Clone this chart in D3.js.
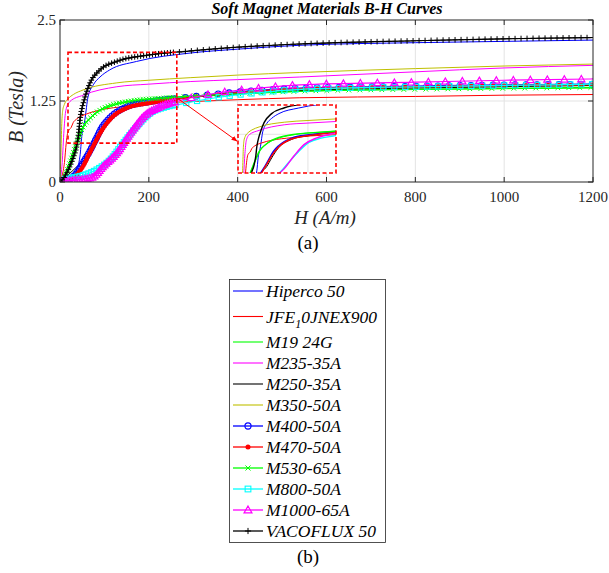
<!DOCTYPE html>
<html>
<head>
<meta charset="utf-8">
<script src="https://cdn.jsdelivr.net/npm/d3@7.9.0/dist/d3.min.js"></script>
<style>
  body { margin: 0; background: #fff; }
  svg { display: block; }
</style>
</head>
<body>
<svg id="chart" width="609" height="573" font-family="'Liberation Serif', 'Times New Roman', serif"></svg>
<script>
// B-H curves, [H (A/m), B (T)]
const hiperco50 = [[0,0],[20,0.05],[35,0.15],[45,0.4],[49,0.7],[56,0.96],[63,1.31],[75,1.5],[90,1.62],[112,1.73],[172,1.86],[293,1.99],[400,2.05],[540,2.11],[800,2.15],[1000,2.17],[1200,2.19]];
const jfe10 = [[0,0],[5,0.1],[10,0.3],[14,0.6],[17,0.75],[20,0.8],[25,0.84],[30,0.92],[37,0.97],[60,1.05],[90,1.11],[150,1.17],[203,1.21],[293,1.24],[400,1.27],[540,1.3],[800,1.32],[1000,1.34],[1200,1.35]];
const m19 = [[0,0],[10,0.1],[25,0.35],[40,0.62],[55,0.87],[75,1.03],[100,1.13],[150,1.23],[240,1.3],[400,1.36],[540,1.4],[800,1.43],[1000,1.44],[1200,1.45]];
const m235 = [[0,0],[5,0.3],[9,0.8],[13,1.1],[22,1.24],[52,1.34],[128,1.47],[200,1.51],[293,1.55],[400,1.58],[540,1.62],[800,1.7],[1000,1.76],[1200,1.8]];
const m250 = [[0,0],[20,0.12],[40,0.25],[60,0.38],[75,0.5],[90,0.7],[110,0.93],[150,1.13],[203,1.22],[263,1.28],[400,1.36],[540,1.41],[800,1.45],[1000,1.47],[1200,1.49]];
const m350 = [[0,0],[2,0.4],[4,0.9],[6,1.1],[10,1.2],[19,1.29],[30,1.35],[52,1.42],[128,1.53],[200,1.57],[293,1.61],[400,1.65],[540,1.69],[800,1.75],[1000,1.79],[1200,1.82]];
const m400 = [[0,0],[20,0.04],[35,0.12],[50,0.28],[65,0.45],[80,0.65],[95,0.85],[112,0.99],[150,1.16],[203,1.24],[263,1.29],[400,1.39],[540,1.45],[800,1.48],[1000,1.5],[1200,1.51]];
const m470 = [[0,0],[20,0.03],[35,0.1],[50,0.22],[67,0.45],[80,0.62],[90,0.75],[112,0.96],[150,1.14],[203,1.22],[263,1.28],[400,1.38],[540,1.44],[800,1.47],[1000,1.49],[1200,1.5]];
const m530 = [[0,0],[10,0.08],[22,0.29],[35,0.55],[52,0.85],[70,1.0],[90,1.11],[150,1.24],[240,1.3],[400,1.36],[540,1.4],[800,1.43],[1000,1.445],[1200,1.46]];
const m800 = [[0,0],[10,0.04],[30,0.07],[50,0.1],[82,0.19],[112,0.34],[142,0.6],[172,0.85],[203,1.06],[240,1.16],[277,1.21],[350,1.3],[450,1.38],[540,1.43],[800,1.47],[1000,1.49],[1200,1.51]];
const m1000 = [[0,0],[20,0.02],[50,0.04],[75,0.08],[97,0.24],[127,0.44],[158,0.75],[188,1.01],[225,1.16],[278,1.27],[350,1.37],[450,1.45],[540,1.5],[800,1.54],[1000,1.57],[1200,1.59]];
const vacoflux50 = [[0,0],[10,0.08],[22,0.24],[30,0.38],[37,0.54],[42,0.75],[45,0.96],[50,1.15],[55,1.28],[67,1.52],[90,1.73],[127,1.86],[200,1.96],[290,2.02],[400,2.08],[540,2.13],[800,2.18],[1000,2.21],[1200,2.23]];

const xTicks = [0, 200, 400, 600, 800, 1000, 1200];
const yTicks = [0, 1.25, 2.5];
const zoomWindow = { h: [18, 263], b: [0.6, 2.0] };   // dashed box on the main axes
const insetView = { h: [-12, 285], b: [0.35, 1.93] };  // what the inset shows

const series = [
  { name: 'Hiperco 50', data: hiperco50, color: '#0000ff', marker: null },
  { name: 'JFE_10JNEX900', data: jfe10, color: '#ff0000', marker: null },
  { name: 'M19 24G', data: m19, color: '#00ff00', marker: null },
  { name: 'M235-35A', data: m235, color: '#ff00ff', marker: null },
  { name: 'M250-35A', data: m250, color: '#000000', marker: null },
  { name: 'M350-50A', data: m350, color: '#bfbf00', marker: null },
  { name: 'M400-50A', data: m400, color: '#0000ff', marker: 'circle', dense: 3, sparse: 11 },
  { name: 'M470-50A', data: m470, color: '#ff0000', marker: 'dot', dense: 2.5, sparse: 11 },
  { name: 'M530-65A', data: m530, color: '#00ff00', marker: 'x', dense: 3, sparse: 11 },
  { name: 'M800-50A', data: m800, color: '#00ffff', marker: 'square', dense: 3, sparse: 11 },
  { name: 'M1000-65A', data: m1000, color: '#ff00ff', marker: 'triangle', dense: 2.5, sparse: 17 },
  { name: 'VACOFLUX 50', data: vacoflux50, color: '#000000', marker: 'plus', dense: 3, sparse: 5.7 },
];

const svg = d3.select('#chart');
const plot = { left: 60, right: 593, top: 20, bottom: 182 };

const x = d3.scaleLinear().domain([0, 1200]).range([plot.left, plot.right]);
const y = d3.scaleLinear().domain([0, 2.5]).range([plot.bottom, plot.top]);

const defs = svg.append('defs');
defs.append('clipPath').attr('id', 'plotClip')
  .append('rect')
  .attr('x', plot.left).attr('y', plot.top)
  .attr('width', plot.right - plot.left).attr('height', plot.bottom - plot.top);

// Gridlines
const grid = svg.append('g').attr('stroke', '#e3e3e3').attr('stroke-width', 1);
grid.selectAll('.gx').data(xTicks.slice(1, -1)).join('line')
  .attr('x1', d => x(d)).attr('x2', d => x(d))
  .attr('y1', plot.top).attr('y2', plot.bottom);
grid.selectAll('.gy').data(yTicks.slice(1, -1)).join('line')
  .attr('x1', plot.left).attr('x2', plot.right)
  .attr('y1', d => y(d)).attr('y2', d => y(d));

function drawMarker(g, type, color, px, py, s) {
  s = s || 1;
  if (type === 'circle') {
    g.append('circle').attr('cx', px).attr('cy', py).attr('r', 2.8 * s)
      .attr('fill', 'none').attr('stroke', color).attr('stroke-width', 1.1);
  } else if (type === 'dot') {
    g.append('circle').attr('cx', px).attr('cy', py).attr('r', 2.3 * s).attr('fill', color);
  } else if (type === 'square') {
    const h = 2.6 * s;
    g.append('rect').attr('x', px - h).attr('y', py - h).attr('width', 2 * h).attr('height', 2 * h)
      .attr('fill', 'none').attr('stroke', color).attr('stroke-width', 1.1);
  } else if (type === 'triangle') {
    const h = 3.6 * s;
    g.append('path').attr('d', `M${px},${py - h}L${px + h},${py + h * 0.75}L${px - h},${py + h * 0.75}Z`)
      .attr('fill', 'none').attr('stroke', color).attr('stroke-width', 1.2);
  } else if (type === 'x') {
    const h = 2.3 * s;
    g.append('path').attr('d', `M${px - h},${py - h}L${px + h},${py + h}M${px - h},${py + h}L${px + h},${py - h}`)
      .attr('stroke', color).attr('stroke-width', 1);
  } else if (type === 'plus') {
    const h = 2.8 * s;
    g.append('path').attr('d', `M${px - h},${py}L${px + h},${py}M${px},${py - h}L${px},${py + h}`)
      .attr('stroke', color).attr('stroke-width', 1);
  }
}

// walk along the drawn path and drop markers, denser on the rising part
function placeMarkers(node, g, s) {
  const L = node.getTotalLength();
  let last = -Infinity;
  for (let t = 0; t <= L; t += 0.5) {
    const p = node.getPointAtLength(t);
    const gap = p.x < x(260) ? s.dense : s.sparse;
    if (t - last >= gap) {
      drawMarker(g, s.marker, s.color, p.x, p.y);
      last = t;
    }
  }
}

const line = d3.line().x(d => x(d[0])).y(d => y(d[1])).curve(d3.curveMonotoneX);
const curves = svg.append('g').attr('clip-path', 'url(#plotClip)');

series.forEach(s => {
  const g = curves.append('g');
  const path = g.append('path')
    .attr('d', line(s.data))
    .attr('fill', 'none')
    .attr('stroke', s.color)
    .attr('stroke-width', s.marker ? 1.2 : 1);
  if (s.marker) placeMarkers(path.node(), g, s);
});

// Axes box
const axisColor = '#262626';
svg.append('rect')
  .attr('x', plot.left).attr('y', plot.top)
  .attr('width', plot.right - plot.left).attr('height', plot.bottom - plot.top)
  .attr('fill', 'none').attr('stroke', axisColor).attr('stroke-width', 1);

const tickLen = 5;
const ticks = svg.append('g').attr('stroke', axisColor).attr('stroke-width', 1);
xTicks.forEach(t => {
  ticks.append('line').attr('x1', x(t)).attr('x2', x(t)).attr('y1', plot.bottom).attr('y2', plot.bottom - tickLen);
  ticks.append('line').attr('x1', x(t)).attr('x2', x(t)).attr('y1', plot.top).attr('y2', plot.top + tickLen);
});
yTicks.forEach(t => {
  ticks.append('line').attr('x1', plot.left).attr('x2', plot.left + tickLen).attr('y1', y(t)).attr('y2', y(t));
  ticks.append('line').attr('x1', plot.right).attr('x2', plot.right - tickLen).attr('y1', y(t)).attr('y2', y(t));
});

svg.append('g').selectAll('text').data(xTicks).join('text')
  .attr('x', d => x(d)).attr('y', 202)
  .attr('text-anchor', 'middle').attr('font-size', 15).attr('fill', axisColor)
  .text(d => d);
svg.append('g').selectAll('text').data(yTicks).join('text')
  .attr('x', plot.left - 4).attr('y', d => y(d) + 5)
  .attr('text-anchor', 'end').attr('font-size', 15).attr('fill', axisColor)
  .text(d => d);

svg.append('text')
  .attr('x', 325).attr('y', 224)
  .attr('text-anchor', 'middle').attr('font-size', 19).attr('font-style', 'italic').attr('fill', axisColor)
  .text('H (A/m)');
svg.append('text')
  .attr('transform', 'translate(23,107) rotate(-90)')
  .attr('text-anchor', 'middle').attr('font-size', 20).attr('font-style', 'italic').attr('fill', axisColor)
  .text('B (Tesla)');
svg.append('text')
  .attr('x', 327).attr('y', 14)
  .attr('text-anchor', 'middle').attr('font-size', 16).attr('font-style', 'italic').attr('font-weight', 'bold')
  .text('Soft Magnet Materials B-H Curves');

// Zoom window on the main axes
const redDash = { stroke: '#ff0000', width: 1.6, dash: '4,2.5' };
svg.append('rect')
  .attr('x', x(zoomWindow.h[0])).attr('y', y(zoomWindow.b[1]))
  .attr('width', x(zoomWindow.h[1]) - x(zoomWindow.h[0]))
  .attr('height', y(zoomWindow.b[0]) - y(zoomWindow.b[1]))
  .attr('fill', 'none').attr('stroke', redDash.stroke)
  .attr('stroke-width', redDash.width).attr('stroke-dasharray', redDash.dash);

// Inset
const inset = { left: 238, right: 336, top: 105, bottom: 173 };
const xi = d3.scaleLinear().domain(insetView.h).range([inset.left, inset.right]);
const yi = d3.scaleLinear().domain(insetView.b).range([inset.bottom, inset.top]);

defs.append('clipPath').attr('id', 'insetClip')
  .append('rect')
  .attr('x', inset.left).attr('y', inset.top)
  .attr('width', inset.right - inset.left).attr('height', inset.bottom - inset.top);

const ig = svg.append('g');
ig.append('rect')
  .attr('x', inset.left).attr('y', inset.top)
  .attr('width', inset.right - inset.left).attr('height', inset.bottom - inset.top)
  .attr('fill', '#fff');
ig.append('line').attr('x1', xi(200)).attr('x2', xi(200)).attr('y1', inset.top).attr('y2', inset.bottom)
  .attr('stroke', '#e3e3e3');
ig.append('line').attr('x1', inset.left).attr('x2', inset.right).attr('y1', yi(1.25)).attr('y2', yi(1.25))
  .attr('stroke', '#e3e3e3');

const insetLine = d3.line().x(d => xi(d[0])).y(d => yi(d[1])).curve(d3.curveMonotoneX);
const icurves = ig.append('g').attr('clip-path', 'url(#insetClip)');
series.forEach(s => {
  icurves.append('path')
    .attr('d', insetLine(s.data))
    .attr('fill', 'none')
    .attr('stroke', s.color)
    .attr('stroke-width', s.marker ? 1.4 : 1);
});
ig.append('rect')
  .attr('x', inset.left).attr('y', inset.top)
  .attr('width', inset.right - inset.left).attr('height', inset.bottom - inset.top)
  .attr('fill', 'none').attr('stroke', redDash.stroke)
  .attr('stroke-width', redDash.width).attr('stroke-dasharray', redDash.dash);

// Arrow from zoom window to inset
defs.append('marker')
  .attr('id', 'arrowHead').attr('viewBox', '0 0 10 10')
  .attr('refX', 9).attr('refY', 5)
  .attr('markerWidth', 6).attr('markerHeight', 6)
  .attr('orient', 'auto')
  .append('path').attr('d', 'M0,1L10,5L0,9Z').attr('fill', '#ff0000');
const arrowStart = [x(zoomWindow.h[1]), y(1.3)];
const arrowEnd = [inset.left - 1, inset.top + 0.53 * (inset.bottom - inset.top)];
svg.append('line')
  .attr('x1', arrowStart[0]).attr('y1', arrowStart[1])
  .attr('x2', arrowEnd[0]).attr('y2', arrowEnd[1])
  .attr('stroke', '#ff0000').attr('stroke-width', 1)
  .attr('marker-end', 'url(#arrowHead)');

svg.append('text')
  .attr('x', 308).attr('y', 249)
  .attr('text-anchor', 'middle').attr('font-size', 19)
  .text('(a)');

// Legend
const legend = svg.append('g');
legend.append('rect')
  .attr('x', 229.5).attr('y', 279.5).attr('width', 156).attr('height', 263)
  .attr('fill', '#fff').attr('stroke', axisColor).attr('stroke-width', 0.8);

series.forEach((s, i) => {
  const ly = 291 + 21 * i + (i >= 1 ? 4.5 : 0) + (i >= 2 ? 4.5 : 0);
  const row = legend.append('g');
  row.append('line')
    .attr('x1', 233).attr('x2', 263).attr('y1', ly).attr('y2', ly)
    .attr('stroke', s.color).attr('stroke-width', s.marker ? 1.3 : 1.1);
  if (s.marker) drawMarker(row, s.marker, s.color, 248, ly, 1.1);
  const t = row.append('text')
    .attr('x', 266).attr('y', ly + 6)
    .attr('font-size', 17.5).attr('font-style', 'italic').attr('fill', '#000');
  if (s.name.includes('_')) {
    const [head, rest] = s.name.split('_');
    t.append('tspan').text(head);
    t.append('tspan').attr('dy', 5).attr('font-size', 12).text(rest[0]);
    t.append('tspan').attr('dy', -5).text(rest.slice(1));
  } else {
    t.text(s.name);
  }
});

svg.append('text')
  .attr('x', 308).attr('y', 563)
  .attr('text-anchor', 'middle').attr('font-size', 19)
  .text('(b)');
</script>
</body>
</html>
